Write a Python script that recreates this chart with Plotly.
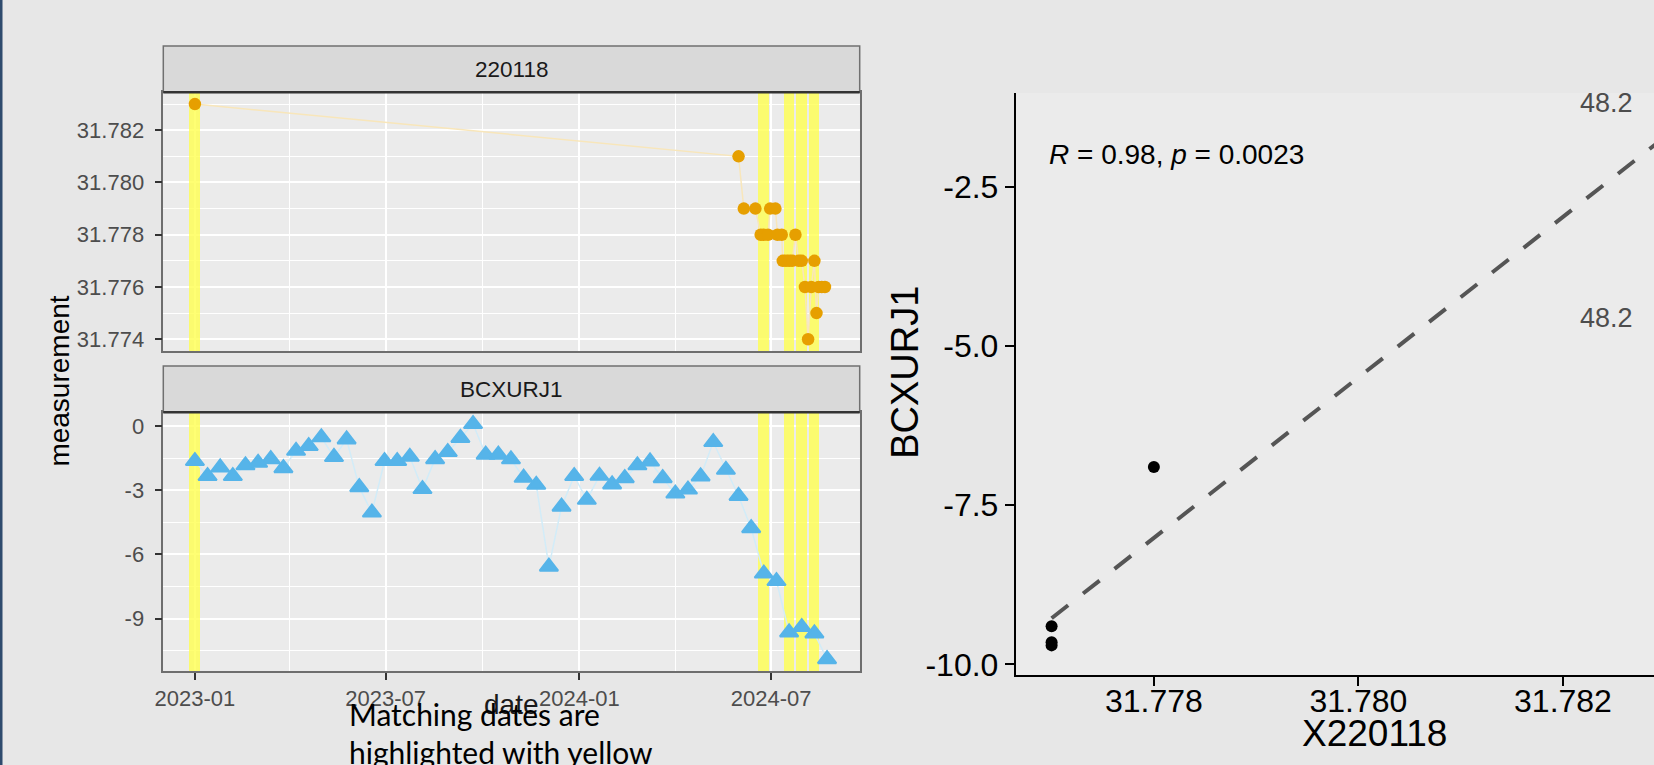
import numpy as np
import pandas as pd
import plotly.graph_objects as go

W, H = 1654, 765

# ---------------- data ----------------
top_dates = ["2023-01-01", "2024-05-31", "2024-06-05", "2024-06-16", "2024-06-21",
             "2024-06-24", "2024-06-28", "2024-06-30", "2024-07-05", "2024-07-07",
             "2024-07-11", "2024-07-12", "2024-07-15", "2024-07-18", "2024-07-21",
             "2024-07-24", "2024-07-27", "2024-07-30", "2024-08-02", "2024-08-05",
             "2024-08-08", "2024-08-11", "2024-08-13", "2024-08-15", "2024-08-18",
             "2024-08-21"]
top_values = [31.783, 31.781, 31.779, 31.779, 31.778,
              31.778, 31.778, 31.779, 31.779, 31.778,
              31.778, 31.777, 31.777, 31.777, 31.777,
              31.778, 31.777, 31.777, 31.776, 31.774,
              31.776, 31.777, 31.775, 31.776, 31.776,
              31.776]

bottom_dates = ["2023-01-01", "2023-01-13", "2023-01-25", "2023-02-06", "2023-02-18",
                "2023-03-02", "2023-03-14", "2023-03-26", "2023-04-07", "2023-04-19",
                "2023-05-01", "2023-05-13", "2023-05-25", "2023-06-06", "2023-06-18",
                "2023-06-30", "2023-07-12", "2023-07-24", "2023-08-05", "2023-08-17",
                "2023-08-29", "2023-09-10", "2023-09-22", "2023-10-04", "2023-10-16",
                "2023-10-28", "2023-11-09", "2023-11-21", "2023-12-03", "2023-12-15",
                "2023-12-27", "2024-01-08", "2024-01-20", "2024-02-01", "2024-02-13",
                "2024-02-25", "2024-03-08", "2024-03-20", "2024-04-01", "2024-04-13",
                "2024-04-25", "2024-05-07", "2024-05-19", "2024-05-31", "2024-06-12",
                "2024-06-24", "2024-07-06", "2024-07-18", "2024-07-30", "2024-08-11",
                "2024-08-23"]
bottom_values = [-1.64, -2.34, -1.94, -2.34, -1.84,
                 -1.72, -1.55, -1.97, -1.16, -0.94,
                 -0.53, -1.45, -0.63, -2.86, -4.05,
                 -1.64, -1.64, -1.44, -2.95, -1.55,
                 -1.22, -0.56, 0.09, -1.34, -1.34,
                 -1.56, -2.42, -2.75, -6.58, -3.77,
                 -2.34, -3.45, -2.33, -2.73, -2.44,
                 -1.84, -1.66, -2.44, -3.16, -2.97,
                 -2.36, -0.75, -2.05, -3.27, -4.78,
                 -6.90, -7.25, -9.65, -9.40, -9.70,
                 -10.90]

matching_dates = ["2023-01-01", "2024-06-24", "2024-07-18", "2024-07-30", "2024-08-11"]

# right panel points (the first one lies beyond the cropped right edge)
scatter_x = [31.783, 31.778, 31.777, 31.777, 31.777]
scatter_y = [-1.90, -6.90, -9.65, -9.40, -9.70]

date_tick_vals = ["2023-01-01", "2023-07-01", "2024-01-01", "2024-07-01"]
date_tick_text = ["2023-01", "2023-07", "2024-01", "2024-07"]
top_tick_vals = [31.774, 31.776, 31.778, 31.780, 31.782]
top_tick_text = ["31.774", "31.776", "31.778", "31.780", "31.782"]
bottom_tick_vals = [-9, -6, -3, 0]
bottom_tick_text = ["-9", "-6", "-3", "0"]
rx_tick_vals = [31.778, 31.780, 31.782]
rx_tick_text = ["31.778", "31.780", "31.782"]
ry_tick_vals = [-10.0, -7.5, -5.0, -2.5]
ry_tick_text = ["-10.0", "-7.5", "-5.0", "-2.5"]

stat_label = "<i>R</i> = 0.98, <i>p</i> = 0.0023"
side_labels = ["48.2", "48.2"]

# ---------------- layout helpers ----------------
def fx(x):
    return x / W

def fy(y):
    return 1 - y / H

LEFT_X0, LEFT_X1 = 163.3, 859.7
TOP_STRIP = (46.0, 92.3)
TOP_PANEL = (92.3, 351.0)
BOT_STRIP = (366.0, 412.3)
BOT_PANEL = (412.3, 670.9)
R_X0, R_X1 = 1015.8, 1654.0
R_Y0, R_Y1 = 92.8, 675.0

TOP_RANGE = [31.77355, 31.78345]
BOT_RANGE = [-11.45, 0.64]
DATE_RANGE = ["2022-12-02", "2024-09-23"]
BAND_WIDTH_MS = 10 * 24 * 3600 * 1000

FONT = "Liberation Sans, Arial, sans-serif"
TICK_GREY = "#4D4D4D"

fig = go.Figure()

# highlight bands (bars spanning each facet's full height)
for xa, ya, rng in (("x", "y", TOP_RANGE), ("x2", "y2", BOT_RANGE)):
    fig.add_trace(go.Bar(
        x=matching_dates, y=[rng[1] - rng[0]] * len(matching_dates),
        base=[rng[0]] * len(matching_dates), width=[BAND_WIDTH_MS] * len(matching_dates),
        marker=dict(color="#FFFF50", line=dict(width=0)), opacity=0.8,
        xaxis=xa, yaxis=ya, hoverinfo="skip"))

fig.add_trace(go.Scatter(
    x=top_dates, y=top_values, mode="lines+markers",
    line=dict(color="#F8E6BA", width=1.5),
    marker=dict(color="#E69F00", size=12.5, symbol="circle"),
    xaxis="x", yaxis="y", hoverinfo="skip"))

fig.add_trace(go.Scatter(
    x=bottom_dates, y=bottom_values, mode="lines+markers",
    line=dict(color="#D2ECF8", width=1.5),
    marker=dict(color="#56B4E9", size=16, symbol="triangle-up",
                line=dict(color="#56B4E9", width=2)),
    xaxis="x2", yaxis="y2", hoverinfo="skip"))

slope, intercept = np.polyfit(scatter_x, scatter_y, 1)
lx = [min(scatter_x), max(scatter_x)]
ly = [slope * v + intercept for v in lx]
fig.add_trace(go.Scatter(
    x=lx, y=ly, mode="lines",
    line=dict(color="#555555", width=4, dash="21px,19px"),
    xaxis="x3", yaxis="y3", hoverinfo="skip"))

fig.add_trace(go.Scatter(
    x=scatter_x, y=scatter_y, mode="markers",
    marker=dict(color="black", size=12),
    xaxis="x3", yaxis="y3", hoverinfo="skip"))

# ---------------- shapes ----------------
shapes = []
for (s0, s1) in (TOP_STRIP, BOT_STRIP):
    shapes.append(dict(type="rect", xref="paper", yref="paper",
                       x0=fx(LEFT_X0), x1=fx(LEFT_X1), y0=fy(s1), y1=fy(s0),
                       fillcolor="#D9D9D9", line=dict(color="#707070", width=1.5),
                       layer="above"))
for yline in (TOP_STRIP[1], BOT_STRIP[1]):
    shapes.append(dict(type="line", xref="paper", yref="paper",
                       x0=fx(LEFT_X0), x1=fx(LEFT_X1), y0=fy(yline), y1=fy(yline),
                       line=dict(color="#333333", width=2.5), layer="above"))

# dark slide border at far left
shapes.append(dict(type="rect", xref="paper", yref="paper", x0=0, x1=fx(2.5),
                   y0=0, y1=1, fillcolor="#2F4B6E", line=dict(width=0), layer="above"))

# ---------------- annotations ----------------
def note(text, x, y, size, color="#000000", family=FONT, xanchor="center", angle=0):
    return dict(text=text, x=fx(x), y=fy(y), xref="paper", yref="paper",
                xanchor=xanchor, yanchor="middle", textangle=angle, showarrow=False,
                font=dict(family=family, size=size, color=color))

mid_left = (LEFT_X0 + LEFT_X1) / 2
ann = [
    note("220118", mid_left, sum(TOP_STRIP) / 2, 22.5, "#1A1A1A"),
    note("BCXURJ1", mid_left, sum(BOT_STRIP) / 2, 22.5, "#1A1A1A"),
    note("measurement", 60, (TOP_PANEL[0] + BOT_PANEL[1]) / 2, 28, angle=-90),
    note("date", mid_left, 704.6, 28, "#1A1A1A"),
    note("BCXURJ1", 904.8, 372, 38, angle=-90),
    note("X220118", 1374, 733, 37),
    note(stat_label, 1047, 155, 28, xanchor="left"),
    note(side_labels[0], 1635, 103, 27, "#4D4D4D", xanchor="right"),
    note(side_labels[1], 1635, 318, 27, "#4D4D4D", xanchor="right"),
    note("Matching dates are", 347, 714, 30, family="Lato, sans-serif", xanchor="left"),
    note("highlighted with yellow", 347, 752, 30, family="Lato, sans-serif", xanchor="left"),
]

# ---------------- axes ----------------
left_axis_common = dict(showline=True, mirror=True, linecolor="#6E6E6E", linewidth=1.5,
                        gridcolor="#FFFFFF", gridwidth=2, zeroline=False, automargin=False,
                        tickfont=dict(family=FONT, size=22, color=TICK_GREY))
minor_dates = ["2023-04-01", "2023-10-01", "2024-04-01"]

xaxis_top = dict(domain=[fx(LEFT_X0), fx(LEFT_X1)], anchor="y", type="date", range=DATE_RANGE,
                 tickmode="array", tickvals=date_tick_vals, ticktext=date_tick_text,
                 showticklabels=False, ticks="",
                 minor=dict(tickmode="array", tickvals=minor_dates, showgrid=True,
                            gridcolor="#FFFFFF", gridwidth=1, ticks=""),
                 **left_axis_common)
xaxis_bot = dict(domain=[fx(LEFT_X0), fx(LEFT_X1)], anchor="y2", type="date", range=DATE_RANGE,
                 tickmode="array", tickvals=date_tick_vals, ticktext=date_tick_text,
                 ticks="outside", ticklen=7, tickwidth=2, tickcolor="#333333",
                 minor=dict(tickmode="array", tickvals=minor_dates, showgrid=True,
                            gridcolor="#FFFFFF", gridwidth=1, ticks=""),
                 **left_axis_common)
yaxis_top = dict(domain=[fy(TOP_PANEL[1]), fy(TOP_PANEL[0])], anchor="x",
                 range=TOP_RANGE, tickmode="array",
                 tickvals=top_tick_vals, ticktext=top_tick_text,
                 ticks="outside", ticklen=7, tickwidth=2, tickcolor="#333333",
                 ticklabelstandoff=6,
                 minor=dict(tickmode="array", tickvals=[31.775, 31.777, 31.779, 31.781, 31.783],
                            showgrid=True, gridcolor="#FFFFFF", gridwidth=1, ticks=""),
                 **left_axis_common)
yaxis_bot = dict(domain=[fy(BOT_PANEL[1]), fy(BOT_PANEL[0])], anchor="x2",
                 range=BOT_RANGE, tickmode="array",
                 tickvals=bottom_tick_vals, ticktext=bottom_tick_text,
                 ticks="outside", ticklen=7, tickwidth=2, tickcolor="#333333",
                 ticklabelstandoff=6,
                 minor=dict(tickmode="array", tickvals=[-10.5, -7.5, -4.5, -1.5],
                            showgrid=True, gridcolor="#FFFFFF", gridwidth=1, ticks=""),
                 **left_axis_common)

xaxis_r = dict(domain=[fx(R_X0), fx(R_X1)], anchor="y3", range=[31.77665, 31.78289],
               tickmode="array", tickvals=rx_tick_vals, ticktext=rx_tick_text,
               showline=True, linecolor="#000000", linewidth=2, showgrid=False, zeroline=False,
               automargin=False,
               ticks="outside", ticklen=9, tickwidth=2, tickcolor="#000000",
               ticklabelstandoff=-12,
               tickfont=dict(family=FONT, size=32, color="#000000"))
yaxis_r = dict(domain=[fy(R_Y1), fy(R_Y0)], anchor="x3", range=[-10.165, -1.026],
               tickmode="array", tickvals=ry_tick_vals, ticktext=ry_tick_text,
               showline=True, linecolor="#000000", linewidth=2, showgrid=False, zeroline=False,
               automargin=False,
               ticks="outside", ticklen=9, tickwidth=2, tickcolor="#000000",
               tickfont=dict(family=FONT, size=32, color="#000000"))

fig.update_layout(
    width=W, height=H, autosize=False,
    margin=dict(l=0, r=0, t=0, b=0, pad=0, autoexpand=False),
    paper_bgcolor="#E7E7E7", plot_bgcolor="#EBEBEB",
    showlegend=False, barmode="overlay", bargap=0,
    xaxis=xaxis_top, yaxis=yaxis_top,
    xaxis2=xaxis_bot, yaxis2=yaxis_bot,
    xaxis3=xaxis_r, yaxis3=yaxis_r,
    shapes=shapes, annotations=ann,
)

post = ("document.documentElement.style.margin='0';document.body.style.margin='0';"
        "document.body.style.padding='0';document.documentElement.style.overflow='hidden';"
        "document.body.style.overflow='hidden';"
        "var gd=document.getElementById('{plot_id}');"
        "Plotly.relayout(gd,{width:%d,height:%d});" % (W, H))

fig.write_html("out.html", config={"displayModeBar": False, "responsive": False},
               post_script=post)
